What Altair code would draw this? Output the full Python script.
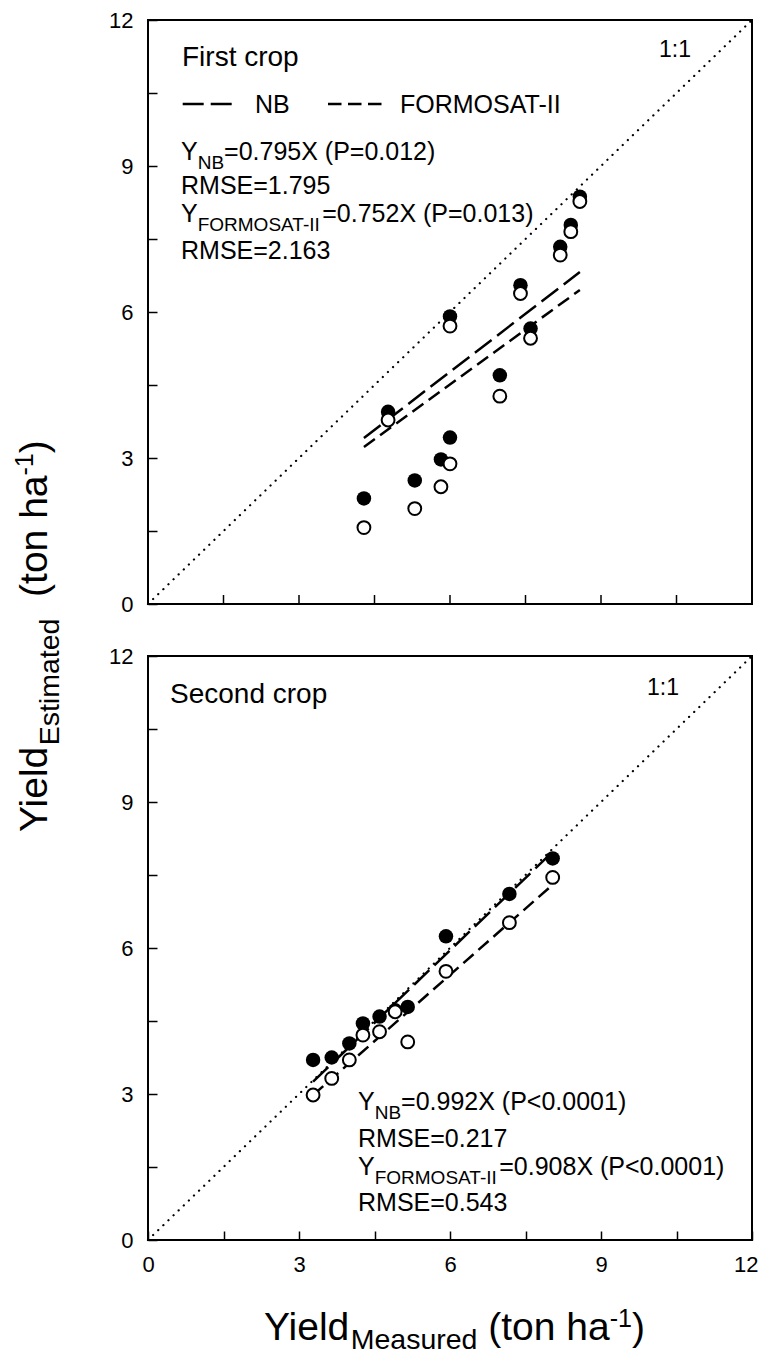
import altair as alt
import pandas as pd

# ---------------- data ----------------
first_measured = [4.29, 4.77, 5.30, 5.82, 6.00, 6.00, 6.99, 7.40, 7.60, 8.19, 8.40, 8.58]
first_nb = [2.17, 3.95, 2.54, 2.97, 3.42, 5.91, 4.70, 6.55, 5.66, 7.34, 7.79, 8.37]
first_formosat = [1.57, 3.78, 1.96, 2.41, 2.88, 5.71, 4.27, 6.38, 5.46, 7.17, 7.65, 8.27]

second_measured = [3.28, 3.65, 4.00, 4.27, 4.60, 4.91, 5.16, 5.92, 7.18, 8.04]
second_nb = [3.70, 3.75, 4.04, 4.45, 4.59, 4.72, 4.79, 6.24, 7.11, 7.84]
second_formosat = [2.98, 3.32, 3.70, 4.21, 4.28, 4.69, 4.07, 5.52, 6.52, 7.45]

first_slope_nb, first_slope_fo = 0.795, 0.752
second_slope_nb, second_slope_fo = 0.992, 0.908

tick_values = [0, 1.5, 3, 4.5, 6, 7.5, 9, 10.5, 12]
one_to_one = [0, 12]

first_eq = ["=0.795X (P=0.012)", "RMSE=1.795", "=0.752X (P=0.013)", "RMSE=2.163"]
second_eq = ["=0.992X (P<0.0001)", "RMSE=0.217", "=0.908X (P<0.0001)", "RMSE=0.543"]

# ---------------- layout / style ----------------
FONT = "Liberation Sans"
PW, PH = 604, 584          # one panel
GAP = 52                   # gap between the panels (px)
PXU = PH / 12.0            # px per data unit (vertical)
OFF = 12 + GAP / PXU       # the upper panel sits OFF units above the lower one
TOTAL_H = 2 * PH + GAP
ORIGIN = (148, 20)         # page position of the plot's top-left corner

ARIAL = {' ': 278, '(': 333, ')': 333, '-': 333, '.': 278, ':': 278, '=': 584, '<': 584,
         'A': 667, 'B': 667, 'C': 722, 'E': 667, 'F': 611, 'I': 278, 'M': 833, 'N': 722,
         'O': 778, 'P': 667, 'R': 722, 'S': 667, 'T': 611, 'X': 667, 'Y': 667,
         'a': 556, 'c': 500, 'd': 556, 'e': 556, 'h': 556, 'i': 222, 'l': 222, 'm': 833,
         'n': 556, 'o': 556, 'p': 556, 'r': 333, 's': 500, 't': 278, 'u': 556}


def tw(s, fs):
    return sum(ARIAL.get(c, 556) for c in s) * fs / 1000.0


def to_data(px, py):
    ox, oy = ORIGIN
    return (px - ox) * 12.0 / PW, (OFF + 12.0) - (py - oy) / PXU


def rich(parts, x0, y0, rotated=False):
    rows = []
    adv = 0.0
    for text, fs, shift in parts:
        stripped = text.lstrip(' ')
        adv += (len(text) - len(stripped)) * 278 * fs / 1000.0
        if rotated:
            px, py = x0 + shift, y0 - adv
        else:
            px, py = x0 + adv, y0 + shift
        xd, yd = to_data(px, py)
        rows.append(dict(xd=xd, yd=yd, text=stripped, fs=fs))
        adv += tw(stripped, fs)
    return rows


xscale = alt.Scale(domain=[0, 12], nice=False, zero=False)
yscale = alt.Scale(domain=[0, OFF + 12], nice=False, zero=False)

y_tick_values = tick_values + [t + OFF for t in tick_values]
v_expr = "(datum.value > 12.5 ? datum.value - %.6f : datum.value)" % OFF
y_label_expr = ("abs(%s / 3 - round(%s / 3)) < 0.01 ? format(round(%s), 'd') : ''"
                % (v_expr, v_expr, v_expr))
x_label_expr = "datum.value % 3 == 0 ? datum.label : ''"

x_axis = alt.Axis(values=tick_values, title=None, domain=False, grid=False, ticks=True,
                  tickSize=9, offset=-9, tickColor='black', tickWidth=1.5,
                  labels=True, labelExpr=x_label_expr, labelFont=FONT, labelFontSize=22,
                  labelColor='black', labelPadding=14, labelFlush=True, labelFlushOffset=6,
                  labelOverlap=False, labelAngle=0)
y_axis = alt.Axis(values=y_tick_values, title=None, domain=False, grid=False, ticks=True,
                  tickSize=9, offset=-9, tickColor='black', tickWidth=1.5,
                  labels=True, labelExpr=y_label_expr, labelFont=FONT, labelFontSize=22,
                  labelColor='black', labelPadding=15, labelFlush=False, labelOverlap=False)


def X(f):
    return alt.X(f, type='quantitative', scale=xscale, axis=x_axis)


def Y(f):
    return alt.Y(f, type='quantitative', scale=yscale, axis=y_axis)


# ---- tables built from the arrays ----
panels = [("first", OFF, first_measured, first_nb, first_formosat, first_slope_nb, first_slope_fo),
          ("second", 0.0, second_measured, second_nb, second_formosat, second_slope_nb, second_slope_fo)]

frame_rows, diag_rows, nb_line_rows, fo_line_rows, nb_pts, fo_pts = [], [], [], [], [], []
for name, base, meas, nb, fo, s_nb, s_fo in panels:
    frame_rows.append(dict(panel=name, x0=0, x1=12, y0=base, y1=base + 12))
    for v in one_to_one:
        diag_rows.append(dict(panel=name, x=v, y=base + v))
    lo, hi = min(meas), max(meas)
    for v in (lo, hi):
        nb_line_rows.append(dict(panel=name, x=v, y=base + s_nb * v))
        fo_line_rows.append(dict(panel=name, x=v, y=base + s_fo * v))
    for m, a, b in zip(meas, nb, fo):
        nb_pts.append(dict(panel=name, x=m, y=base + a))
        fo_pts.append(dict(panel=name, x=m, y=base + b))

upper_ticks = pd.DataFrame({'x': tick_values, 'y0': OFF, 'y1': OFF + 9 / PXU})

frames = alt.Chart(pd.DataFrame(frame_rows)).mark_rect(
    fillOpacity=0, stroke='black', strokeWidth=2
).encode(x=X('x0'), x2='x1', y=Y('y0'), y2='y1')

top_ticks = alt.Chart(upper_ticks).mark_rule(color='black', strokeWidth=1.5).encode(
    x=X('x'), y=Y('y0'), y2='y1')

diag = alt.Chart(pd.DataFrame(diag_rows)).mark_line(
    color='black', strokeWidth=2.2, strokeDash=[0.1, 7], strokeCap='round'
).encode(x=X('x'), y=Y('y'), detail='panel:N')

reg_nb = alt.Chart(pd.DataFrame(nb_line_rows)).mark_line(
    color='black', strokeWidth=2.5, strokeDash=[21, 7]
).encode(x=X('x'), y=Y('y'), detail='panel:N')
reg_fo = alt.Chart(pd.DataFrame(fo_line_rows)).mark_line(
    color='black', strokeWidth=2.5, strokeDash=[13.5, 6.5]
).encode(x=X('x'), y=Y('y'), detail='panel:N')

pts_nb = alt.Chart(pd.DataFrame(nb_pts)).mark_circle(
    size=210, color='black', opacity=1
).encode(x=X('x'), y=Y('y'))
pts_fo = alt.Chart(pd.DataFrame(fo_pts)).mark_point(
    shape='circle', filled=True, fill='white', stroke='black', strokeWidth=2,
    size=165, opacity=1
).encode(x=X('x'), y=Y('y'))

# ---- annotations (page coordinates) ----
ann = []
ann += rich([("First crop", 28, 0)], 182, 66)
ann += rich([("1:1", 23, 0)], 659, 56.5)
ann += rich([("NB", 25, 0)], 255, 112.5)
ann += rich([("FORMOSAT-II", 25, 0)], 400, 112.5)
ann += rich([("Y", 25, 0), ("NB", 19, 9), (first_eq[0], 25, 0)], 181, 160)
ann += rich([(first_eq[1], 25, 0)], 181, 194)
ann += rich([("Y", 25, 0), ("FORMOSAT-II", 19, 9), (first_eq[2], 25, 0)], 181, 221.5)
ann += rich([(first_eq[3], 25, 0)], 181, 259)

ann += rich([("Second crop", 28, 0)], 170, 703)
ann += rich([("1:1", 23, 0)], 647, 695)
ann += rich([("Y", 25, 0), ("NB", 19, 9), (second_eq[0], 25, 0)], 358, 1110)
ann += rich([(second_eq[1], 25, 0)], 358, 1146.5)
ann += rich([("Y", 25, 0), ("FORMOSAT-II", 19, 9), (second_eq[2], 25, 0)], 358, 1175)
ann += rich([(second_eq[3], 25, 0)], 358, 1211)
ann += rich([("Yield", 39, 0), ("Measured", 28.5, 9), (" (ton ha", 39, 0),
             ("-1", 25, -13), (")", 39, 0)], 264, 1340)

ytitle = rich([("Yield", 39, 0), ("Estimated", 28.5, 12), ("  (ton ha", 39, 0),
               ("-1", 25, -14), (")", 39, 0)], 47, 832, rotated=True)

txt = alt.Chart(pd.DataFrame(ann)).mark_text(
    align='left', baseline='alphabetic', font=FONT, color='black'
).encode(x=X('xd'), y=Y('yd'), text='text:N', size=alt.Size('fs:Q', scale=None, legend=None))
rtxt = alt.Chart(pd.DataFrame(ytitle)).mark_text(
    align='left', baseline='alphabetic', font=FONT, color='black', angle=270
).encode(x=X('xd'), y=Y('yd'), text='text:N', size=alt.Size('fs:Q', scale=None, legend=None))

dummy = pd.DataFrame({'k': [0]})
legend_nb = alt.Chart(dummy).mark_rule(color='black', strokeWidth=2.5, strokeDash=[21, 7]).encode(
    x=alt.value(34.7), x2=alt.value(83.7), y=alt.value(84))
legend_fo = alt.Chart(dummy).mark_rule(color='black', strokeWidth=2.5, strokeDash=[13.5, 6.5]).encode(
    x=alt.value(180), x2=alt.value(234), y=alt.value(84))
anchor = alt.Chart(dummy).mark_rule(color='white', strokeWidth=1, strokeOpacity=0).encode(
    x=alt.value(-140), x2=alt.value(-139), y=alt.value(-12))

chart = alt.layer(
    frames, top_ticks, diag, reg_nb, reg_fo, pts_nb, pts_fo, txt, rtxt,
    legend_nb, legend_fo, anchor
).properties(
    width=PW, height=TOTAL_H, padding=0
).configure_view(stroke=None)

chart.save("out.html", embed_options={"renderer": "svg", "actions": False})
